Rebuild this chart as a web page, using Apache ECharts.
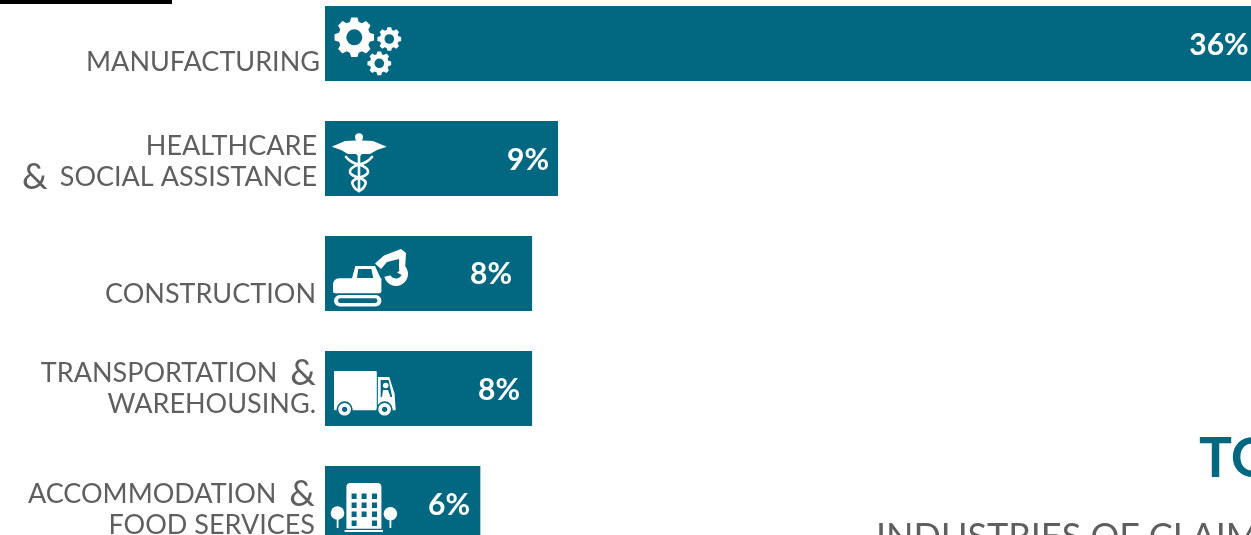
<!DOCTYPE html>
<html>
<head>
<meta charset="utf-8">
<title>Top industries of claims</title>
<script src="https://cdn.jsdelivr.net/npm/echarts@6/dist/echarts.min.js"></script>
<style>
  html, body { margin: 0; padding: 0; background: #fff; overflow: hidden; }
  #chart { width: 1251px; height: 535px; }
</style>
</head>
<body>
<div id="chart"></div>
<script>
// chart data
const categories = [
  'MANUFACTURING',
  'HEALTHCARE\n& SOCIAL ASSISTANCE',
  'CONSTRUCTION',
  'TRANSPORTATION &\nWAREHOUSING.',
  'ACCOMMODATION &\nFOOD SERVICES'
]
const shares = [36, 9, 8, 8, 6]
const titleText = 'TOP'
const subtitleText = 'INDUSTRIES OF CLAIMS'

const TEAL = '#026882'
const GREY = '#5f5f5f'
const FONT = 'Lato'

// label nudges, the source labels do not sit on the bar centres
const valueSpots = [[894, 39], [203, 39], [166, 38], [174, 39], [124, 39]]
const labelPads = [[38, 0], [6, 3], [41, 4], [0, 4], [12, 5]]

const white = { fill: '#fff' }
const hole = { fill: TEAL }

function gear(cx, cy, outer, root, bore, teeth) {
  const pts = []
  const step = Math.PI * 2 / teeth
  for (let i = 0; i < teeth; i++) {
    const a = i * step
    ;[[-0.36, root], [-0.2, outer], [0.2, outer], [0.36, root]].forEach(p => {
      const t = a + p[0] * step
      pts.push([cx + Math.cos(t) * p[1], cy + Math.sin(t) * p[1]])
    })
  }
  return [
    { type: 'polygon', shape: { points: pts }, style: white },
    { type: 'circle', shape: { cx, cy, r: bore }, style: hole }
  ]
}

const line = (points, w, smooth) => ({
  type: 'polyline',
  shape: { points, smooth: smooth || 0 },
  style: { stroke: '#fff', lineWidth: w, fill: null, lineCap: 'round' }
})

function wheel(cx, cy) {
  return [
    { type: 'circle', shape: { cx, cy, r: 8 }, style: hole },
    { type: 'circle', shape: { cx, cy, r: 6.3 }, style: white },
    { type: 'circle', shape: { cx, cy, r: 2.6 }, style: hole }
  ]
}

function windows() {
  const out = []
  ;[27.5, 36.5, 45.5].forEach(y => {
    [26.6, 36.6, 47].forEach(x => {
      out.push({ type: 'rect', shape: { x, y, width: 5, height: 5.5 }, style: hole })
    })
  })
  out.push({ type: 'rect', shape: { x: 26.6, y: 54.5, width: 5, height: 5.5 }, style: hole })
  out.push({ type: 'rect', shape: { x: 47, y: 54.5, width: 5, height: 5.5 }, style: hole })
  return out
}

const icons = [
  // gears
  [].concat(gear(29.3, 31.3, 20, 16, 8, 8), gear(64.3, 33, 12, 9.5, 4.8, 8), gear(54.3, 57.3, 12, 9.5, 4.8, 8)),
  // caduceus
  [
    { type: 'circle', shape: { cx: 34, cy: 16.3, r: 4 }, style: white },
    { type: 'polygon', shape: { points: [[6.7, 25.7], [20, 20], [30, 19.5], [38, 19.5], [48, 20], [61.7, 25.7], [52, 29], [45, 33], [37, 33], [34, 36], [31, 33], [23, 33], [16, 29]] }, style: white },
    line([[34, 22], [34, 68]], 2.6),
    line([[21, 36], [27, 41], [41, 47], [42, 53], [28, 60], [29, 66], [34, 70]], 2.6, 0.5),
    line([[47, 36], [41, 41], [27, 47], [26, 53], [40, 60], [39, 66], [34, 70]], 2.6, 0.5)
  ],
  // excavator
  [
    { type: 'rect', shape: { x: 8, y: 42.3, width: 48.4, height: 15, r: [6, 0, 2, 2] }, style: white },
    { type: 'polygon', shape: { points: [[26.8, 43], [30.4, 30], [50, 30], [56.4, 44]] }, style: white },
    { type: 'polygon', shape: { points: [[33.2, 33], [46.4, 33], [48.2, 42], [32, 42]] }, style: hole },
    { type: 'polygon', shape: { points: [[50, 27.5], [59, 19.5], [76, 13], [81, 17], [80, 34], [74, 34], [74, 23], [62, 26], [56, 33]] }, style: white },
    { type: 'sector', shape: { cx: 71, cy: 38, r: 12, r0: 0, startAngle: -0.8, endAngle: 2.9 }, style: white },
    { type: 'sector', shape: { cx: 71, cy: 36, r: 6.5, r0: 0, startAngle: 0.5, endAngle: 3.2 }, style: hole },
    { type: 'rect', shape: { x: 9, y: 59, width: 47.4, height: 11.5, r: 5.7 }, style: white },
    { type: 'rect', shape: { x: 13, y: 62.3, width: 39.4, height: 4.8, r: 2.4 }, style: hole }
  ],
  // truck
  [].concat([
    { type: 'rect', shape: { x: 9, y: 20, width: 42.8, height: 39.3, r: 1 }, style: white },
    { type: 'polygon', shape: { points: [[52.9, 26], [64.3, 26], [69.6, 42.7], [70.7, 59.3], [52.9, 59.3]] }, style: white },
    { type: 'polygon', shape: { points: [[55.7, 29], [63.6, 29], [67.2, 46], [55.7, 46]] }, style: hole },
    { type: 'circle', shape: { cx: 60.7, cy: 34.5, r: 2.8 }, style: white },
    { type: 'polygon', shape: { points: [[57, 46], [58, 39], [63, 39], [65.5, 46]] }, style: white }
  ], wheel(19.6, 58.3), wheel(59.6, 58.3)),
  // building with two trees
  [].concat([
    { type: 'rect', shape: { x: 21.4, y: 17, width: 35, height: 45.7, r: [4, 4, 0, 0] }, style: white },
    { type: 'rect', shape: { x: 19.6, y: 64, width: 38.3, height: 2 }, style: white },
    { type: 'circle', shape: { cx: 12.5, cy: 47, r: 6.8 }, style: white },
    { type: 'rect', shape: { x: 11.7, y: 50, width: 1.8, height: 12 }, style: white },
    { type: 'circle', shape: { cx: 65.4, cy: 47.7, r: 6.8 }, style: white },
    { type: 'rect', shape: { x: 64.5, y: 50, width: 1.8, height: 12 }, style: white }
  ], windows())
]

const chart = echarts.init(document.getElementById('chart'), null, { renderer: 'canvas' })

const ampStyle = { fontFamily: FONT, fontWeight: 400, fontSize: 36, color: GREY, lineHeight: 31 }

chart.setOption({
  animation: false,
  backgroundColor: '#fff',
  textStyle: { fontFamily: FONT },
  // the scale runs past the page on purpose, 36 ends a few pixels off the right edge
  grid: { left: 325, top: -14, width: 932, height: 575, containLabel: false, outerBoundsMode: 'none' },
  xAxis: { type: 'value', min: 0, max: 36, show: false },
  yAxis: {
    type: 'category',
    inverse: true,
    data: categories.map((c, i) => ({
      value: c,
      textStyle: { padding: [labelPads[i][0], labelPads[i][1], 0, 0] }
    })),
    axisLine: { show: false },
    axisTick: { show: false },
    axisLabel: {
      margin: 5,
      interval: 0,
      align: 'right',
      color: GREY,
      fontFamily: FONT,
      fontWeight: 400,
      fontSize: 27,
      lineHeight: 31,
      // the & is set larger than the rest, leading and trailing ones space differently
      formatter: v => v.replace('& ', '{ampLead|&}').replace(' &', ' {ampEnd|&}'),
      rich: {
        ampLead: Object.assign({ padding: [0, 12, 0, 0] }, ampStyle),
        ampEnd: Object.assign({ padding: [0, 0, 0, 6] }, ampStyle)
      }
    }
  },
  graphic: [
    { type: 'rect', left: 0, top: 0, shape: { width: 172, height: 4 }, style: { fill: '#000' } },
    { type: 'text', left: 1199, top: 432, style: { text: titleText, fill: TEAL, font: 'bold 55px ' + FONT } },
    { type: 'text', left: 876, top: 519, style: { text: subtitleText, fill: GREY, font: '400 36px ' + FONT } }
  ],
  series: [
    {
      type: 'bar',
      barWidth: 75,
      itemStyle: { color: TEAL },
      data: shares.map((v, i) => ({
        value: v,
        label: {
          show: true,
          position: valueSpots[i],
          align: 'center',
          verticalAlign: 'middle',
          formatter: '{c}%',
          color: '#fff',
          fontFamily: FONT,
          fontWeight: 'bold',
          fontSize: 30
        }
      }))
    },
    {
      type: 'custom',
      clip: false,
      silent: true,
      z: 5,
      encode: { x: 0, y: 1 },
      data: categories.map((c, i) => [0, i]),
      renderItem: (params, api) => {
        const start = api.coord([0, api.value(1)])
        return {
          type: 'group',
          x: start[0],
          y: start[1] - 37.5,
          children: icons[params.dataIndex]
        }
      }
    }
  ]
})

window.addEventListener('resize', () => chart.resize())
</script>
</body>
</html>
